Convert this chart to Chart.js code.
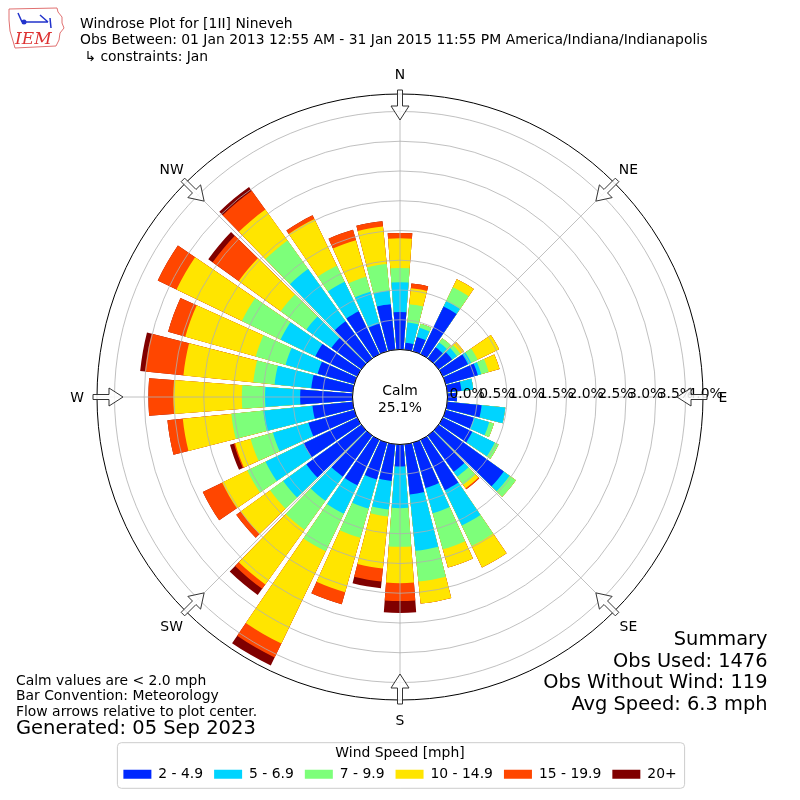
<!DOCTYPE html>
<html>
<head>
<meta charset="utf-8">
<title>Windrose Plot for [1II] Nineveh</title>
<script src="https://cdn.jsdelivr.net/npm/chart.js@4.4.0/dist/chart.umd.min.js"></script>
<style>
  body { margin: 0; background: #fff; }
</style>
</head>
<body>
<canvas id="chart" width="800" height="800"></canvas>
<script>
// direction of each bar, degrees clockwise from north (10 degree bins)
const directions = [0, 10, 20, 30, 40, 50, 60, 70, 80, 90, 100, 110, 120, 130, 140, 150, 160, 170,
                    180, 190, 200, 210, 220, 230, 240, 250, 260, 270, 280, 290, 300, 310, 320, 330, 340, 350];

// percent of observations per speed bin, one value per direction
const speed2to5 = [0.63, 0.12, 0.25, 0.89, 0.23, 0.28, 0.47, 0.56, 0.24, 0.16, 0.58, 0.49, 0.55, 1.35, 0.75, 0.94, 0.79, 0.85,
                   0.37, 0.62, 0.64, 0.85, 0.85, 1.14, 1.00, 0.80, 0.68, 0.88, 0.70, 0.64, 0.78, 0.62, 0.77, 0.80, 0.48, 0.77];
const speed5to7 = [0.50, 0.34, 0.16, 0.10, 0.10, 0.10, 0.06, 0.06, 0.20, 0.00, 0.40, 0.27, 0.42, 0.12, 0.10, 0.66, 0.44, 0.95,
                   0.70, 0.48, 0.51, 0.53, 0.50, 0.48, 0.71, 0.62, 0.83, 0.59, 0.62, 0.56, 0.65, 0.52, 1.08, 0.55, 0.56, 0.23];
const speed7to10 = [0.24, 0.31, 0.07, 0.26, 0.09, 0.07, 0.12, 0.13, 0.00, 0.00, 0.00, 0.08, 0.07, 0.13, 0.17, 0.38, 0.63, 0.52,
                    0.65, 0.12, 0.51, 0.70, 0.60, 0.27, 0.34, 0.39, 0.54, 0.39, 0.36, 0.52, 0.72, 0.53, 0.59, 0.30, 0.26, 0.45];
const speed10to15 = [0.50, 0.27, 0.00, 0.15, 0.00, 0.07, 0.40, 0.19, 0.00, 0.00, 0.00, 0.00, 0.00, 0.00, 0.07, 0.40, 0.32, 0.37,
                     0.61, 0.88, 0.95, 1.72, 1.13, 0.61, 0.47, 0.27, 0.82, 1.15, 1.18, 1.23, 1.22, 0.87, 0.64, 0.87, 0.64, 0.63];
const speed15to20 = [0.09, 0.08, 0.00, 0.00, 0.00, 0.00, 0.00, 0.00, 0.00, 0.00, 0.00, 0.00, 0.00, 0.00, 0.02, 0.00, 0.00, 0.00,
                     0.30, 0.22, 0.21, 0.26, 0.09, 0.09, 0.36, 0.02, 0.26, 0.42, 0.65, 0.30, 0.35, 0.54, 0.39, 0.07, 0.18, 0.09];
const speed20plus = [0, 0, 0, 0, 0, 0, 0, 0, 0, 0, 0, 0, 0, 0, 0, 0, 0, 0,
                     0.20, 0.11, 0, 0.15, 0.13, 0, 0, 0.07, 0, 0, 0.08, 0, 0, 0.09, 0.08, 0, 0, 0];

const binLabels = ["2 - 4.9", "5 - 6.9", "7 - 9.9", "10 - 14.9", "15 - 19.9", "20+"];
const binColors = ["#0028ff", "#00d4ff", "#7dff7a", "#ffe500", "#ff4600", "#800000"];
const tickValues = [0, 0.5, 1.0, 1.5, 2.0, 2.5, 3.0, 3.5, 4.0];
const compassLabels = ["N", "NE", "E", "SE", "S", "SW", "W", "NW"];

const calmPercent = "25.1%";
const summaryLines = ["Summary", "Obs Used: 1476", "Obs Without Wind: 119", "Avg Speed: 6.3 mph"];
const noteLines = ["Calm values are < 2.0 mph", "Bar Convention: Meteorology", "Flow arrows relative to plot center."];
const titleLines = ["Windrose Plot for [1II] Nineveh",
                    "Obs Between: 01 Jan 2013 12:55 AM - 31 Jan 2015 11:55 PM America/Indiana/Indianapolis",
                    " \u21b3 constraints: Jan"];

const FONT = "'DejaVu Sans', sans-serif";
const BAR_ANGLE = 8.6;
const GAP_ANGLE = 1.4;
// the calm circle sits inside the scale, so it starts below zero
const MIN_R = -0.798;
const MAX_R = 4.294;

// stack the bins: each dataset holds the running total, smaller totals drawn on top
const bins = [speed2to5, speed5to7, speed7to10, speed10to15, speed15to20, speed20plus];
const totals = [];
bins.forEach((bin, k) => {
    totals.push(directions.map((d, i) => bin[i] + (k > 0 ? totals[k - 1][i] : 0)));
});

// every bar is followed by a thin empty slice that makes the gap
const labels = [];
directions.forEach(d => { labels.push(d + "\u00b0"); labels.push(""); });

const datasets = bins.map((bin, k) => {
    const data = [];
    totals[k].forEach(v => { data.push(v); data.push(MIN_R); });
    return {
        label: binLabels[k],
        data: data,
        backgroundColor: binColors[k],
        borderWidth: 0,
        angle: ctx => (ctx.dataIndex % 2 === 0 ? BAR_ANGLE : GAP_ANGLE)
    };
});

function polar(cx, cy, deg, r, w) {
    const a = deg * Math.PI / 180;
    return [cx + Math.sin(a) * r + Math.cos(a) * w, cy - Math.cos(a) * r + Math.sin(a) * w];
}

const decorations = {
    id: "decorations",
    afterDraw(chart) {
        const ctx = chart.ctx;
        const scale = chart.scales.r;
        const cx = scale.xCenter, cy = scale.yCenter, R = scale.drawingArea;
        const r0 = scale.getDistanceFromCenterForValue(0);
        ctx.save();

        // angle lines every 45 degrees
        ctx.strokeStyle = "#b0b0b0";
        ctx.lineWidth = 0.8;
        for (let k = 0; k < 8; k++) {
            const p1 = polar(cx, cy, k * 45, r0, 0), p2 = polar(cx, cy, k * 45, R, 0);
            ctx.beginPath();
            ctx.moveTo(p1[0], p1[1]);
            ctx.lineTo(p2[0], p2[1]);
            ctx.stroke();
        }

        // percent labels along the east line
        ctx.fillStyle = "#000";
        ctx.font = "13.9px " + FONT;
        ctx.textAlign = "left";
        ctx.textBaseline = "alphabetic";
        tickValues.forEach(v => {
            ctx.fillText(v.toFixed(1) + "%", cx + scale.getDistanceFromCenterForValue(v) + 2, cy + 0.5);
        });

        // inward flow arrows and compass labels
        compassLabels.forEach((lab, k) => {
            const deg = k * 45;
            const pts = [[277, 0], [291, 9], [291, 2.5], [307, 2.5], [307, -2.5], [291, -2.5], [291, -9]];
            ctx.beginPath();
            pts.forEach((p, j) => {
                const q = polar(cx, cy, deg, p[0], p[1]);
                if (j === 0) ctx.moveTo(q[0], q[1]); else ctx.lineTo(q[0], q[1]);
            });
            ctx.closePath();
            ctx.fillStyle = "rgba(255,255,255,0.85)";
            ctx.fill();
            ctx.strokeStyle = "#333";
            ctx.lineWidth = 1;
            ctx.stroke();

            const t = polar(cx, cy, deg, 323, 0);
            ctx.fillStyle = "#000";
            ctx.font = "13.9px " + FONT;
            ctx.textAlign = "center";
            ctx.textBaseline = "middle";
            ctx.fillText(lab, t[0], t[1] + 1.5);
        });

        // calm circle
        ctx.beginPath();
        ctx.arc(cx, cy, r0, 0, Math.PI * 2);
        ctx.fillStyle = "#fff";
        ctx.fill();
        ctx.strokeStyle = "#000";
        ctx.lineWidth = 1;
        ctx.stroke();
        ctx.fillStyle = "#000";
        ctx.textAlign = "center";
        ctx.textBaseline = "middle";
        ctx.fillText("Calm", cx, cy - 5.5);
        ctx.fillText(calmPercent, cx, cy + 11);

        // header text
        ctx.textAlign = "left";
        titleLines.forEach((line, i) => ctx.fillText(line, 80, 24 + i * 16.6));

        // notes bottom left
        noteLines.forEach((line, i) => ctx.fillText(line, 16, 681 + i * 15.5));
        ctx.font = "19.5px " + FONT;
        ctx.fillText("Generated: 05 Sep 2023", 16, 729);

        // summary bottom right
        ctx.font = "19.4px " + FONT;
        ctx.textAlign = "right";
        summaryLines.forEach((line, i) => ctx.fillText(line, 767.5, 640 + i * 21.7));

        // legend frame
        const lg = chart.legend;
        const pad = lg.options.labels.padding;
        const lw = lg.lineWidths[0];
        const x0 = (lg.left + pad + lg.right - lw) / 2;
        ctx.beginPath();
        ctx.roundRect(x0 - 6, lg.top + 42.7, lw - pad + 14, 45.6, 4);
        ctx.strokeStyle = "#cccccc";
        ctx.lineWidth = 1;
        ctx.stroke();

        // IEM logo
        const outline = [[9, 9], [57, 8], [58, 12], [62, 17], [62, 23], [64, 28], [60, 33], [59, 40], [56, 46],
                         [15, 48], [13, 41], [10, 31], [9, 20]];
        ctx.beginPath();
        outline.forEach((p, j) => { if (j === 0) ctx.moveTo(p[0], p[1]); else ctx.lineTo(p[0], p[1]); });
        ctx.closePath();
        ctx.strokeStyle = "#e07070";
        ctx.lineWidth = 1;
        ctx.stroke();
        ctx.strokeStyle = "#2233cc";
        ctx.lineWidth = 1.5;
        ctx.beginPath();
        ctx.moveTo(23, 22); ctx.lineTo(48, 22);
        ctx.moveTo(18, 13); ctx.lineTo(22, 22);
        ctx.moveTo(40, 15); ctx.lineTo(48, 22);
        ctx.moveTo(50, 18); ctx.lineTo(51, 28);
        ctx.stroke();
        ctx.fillStyle = "#2233cc";
        ctx.beginPath(); ctx.arc(24, 22, 2.5, 0, Math.PI * 2); ctx.fill();
        ctx.fillStyle = "#dd3333";
        ctx.font = "italic 17px 'DejaVu Serif', 'Liberation Serif', serif";
        ctx.textAlign = "left";
        ctx.textBaseline = "alphabetic";
        ctx.fillText("IEM", 15, 44);

        ctx.restore();
    }
};

Chart.defaults.font.family = FONT;
Chart.defaults.font.size = 13.9;
Chart.defaults.color = "#000";

const chart1 = document.getElementById("chart");
new Chart(chart1, {
    type: "polarArea",
    data: { labels: labels, datasets: datasets },
    options: {
        responsive: false,
        animation: false,
        layout: { padding: { top: 94, left: 97, right: 97, bottom: 8.7 } },
        scales: {
            r: {
                min: MIN_R,
                max: MAX_R,
                startAngle: -BAR_ANGLE / 2,
                ticks: { display: false },
                afterBuildTicks: s => { s.ticks = tickValues.concat([MAX_R]).map(v => ({ value: v })); },
                grid: {
                    z: 1,
                    color: c => (c.tick && c.tick.value === MAX_R ? "#000" : "#b0b0b0"),
                    lineWidth: c => (c.tick && c.tick.value === MAX_R ? 1 : 0.8)
                },
                angleLines: { display: false },
                pointLabels: { display: false }
            }
        },
        plugins: {
            tooltip: { enabled: false },
            legend: {
                position: "bottom",
                onClick: null,
                title: {
                    display: true,
                    text: "Wind Speed [mph]",
                    font: { size: 13.9, lineHeight: 1 },
                    padding: { top: 46, bottom: -3.5 }
                },
                labels: {
                    boxWidth: 28,
                    boxHeight: 9,
                    padding: 11,
                    font: { size: 13.9 },
                    generateLabels: chart => chart.data.datasets.map((ds, i) => ({
                        text: ds.label,
                        fillStyle: binColors[i],
                        strokeStyle: binColors[i],
                        lineWidth: 0,
                        hidden: false,
                        datasetIndex: i
                    }))
                }
            }
        }
    },
    plugins: [decorations]
});
</script>
</body>
</html>
